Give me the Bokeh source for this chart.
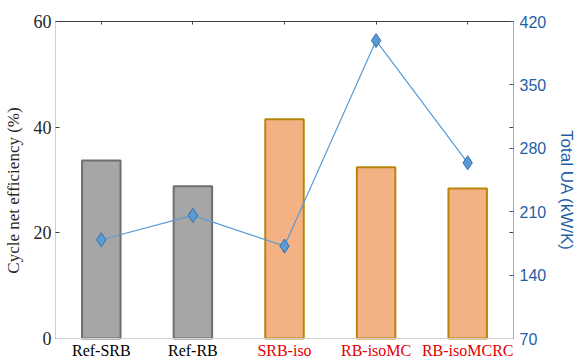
from bokeh.plotting import figure
from bokeh.models import (Range1d, LinearAxis, FixedTicker, ColumnDataSource, LabelSet, Span)
from bokeh.embed import file_html
from bokeh.resources import INLINE

categories = ["Ref-SRB", "Ref-RB", "SRB-iso", "RB-isoMC", "RB-isoMCRC"]
efficiency = [33.7, 28.8, 41.5, 32.4, 28.4]
total_ua = [179, 206, 172, 399, 264]
bar_fill = ["#A6A6A6", "#A6A6A6", "#F4B183", "#F4B183", "#F4B183"]
bar_edge = ["#6E6E6E", "#6E6E6E", "#B8860B", "#B8860B", "#B8860B"]
label_colors = ["#000000", "#000000", "#E00000", "#E00000", "#E00000"]
left_ticks = [0, 20, 40, 60]
right_ticks = [70, 140, 210, 280, 350, 420]

xpos = list(range(1, len(categories) + 1))
blank = lambda ts: {t: "" for t in ts}

# frame runs down to the bottom of the canvas so the category labels can sit under y=0
eff_lo, eff_hi = left_ticks[0], left_ticks[-1]
ua_lo, ua_hi = right_ticks[0], right_ticks[-1]
frame_h = 359 - 21
pad_px = 21
eff_pad = (eff_hi - eff_lo) * pad_px / (frame_h - pad_px)
ua_pad = (ua_hi - ua_lo) * pad_px / (frame_h - pad_px)

p = figure(width=579, height=359, output_backend="svg", toolbar_location=None,
           x_range=Range1d(0.5, 5.5), y_range=Range1d(eff_lo - eff_pad, eff_hi),
           min_border_left=55, min_border_right=58, min_border_top=21, min_border_bottom=0,
           x_axis_location=None, y_axis_location=None)
p.grid.visible = False
p.outline_line_color = None
p.background_fill_color = "white"

src = ColumnDataSource(dict(x=xpos, eff=efficiency, ua=total_ua, fill=bar_fill, edge=bar_edge,
                            name=categories, tc=label_colors, y0=[0] * 5))

p.add_layout(Span(location=0, dimension="width", line_color="#D0D0D0", line_width=1))

p.vbar(x="x", top="eff", width=0.42, fill_color="fill", line_color="edge", line_width=2, source=src)

p.extra_y_ranges = {"ua": Range1d(ua_lo - ua_pad, ua_hi)}
p.line(x="x", y="ua", y_range_name="ua", line_color="#5B9BD5", line_width=1.2, source=src)
p.scatter(x="x", y="ua", y_range_name="ua", marker="diamond", size=14,
          fill_color="#5B9BD5", line_color="#2E6FB0", line_width=1, source=src)

# top axis (box with inward ticks)
xt = LinearAxis(ticker=FixedTicker(ticks=xpos), major_label_overrides=blank(xpos),
                major_tick_in=3, major_tick_out=0, major_label_standoff=0,
                axis_line_color="#404040", major_tick_line_color="#404040", minor_tick_line_color=None)
p.add_layout(xt, "above")

yl = LinearAxis(ticker=FixedTicker(ticks=left_ticks), axis_label="Cycle net efficiency (%)",
                bounds=(eff_lo, eff_hi),
                major_tick_in=4, major_tick_out=0, minor_tick_line_color=None,
                axis_line_color="#D0D0D0", major_tick_line_color="#404040",
                major_label_text_font="Liberation Serif", major_label_text_font_size="18px",
                major_label_text_color="#262626", major_label_standoff=4,
                axis_label_text_font="Liberation Serif", axis_label_text_font_size="17px",
                axis_label_text_font_style="normal", axis_label_text_color="#262626",
                axis_label_standoff=8)
p.add_layout(yl, "left")

ym = LinearAxis(ticker=FixedTicker(ticks=left_ticks), major_label_overrides=blank(left_ticks),
                bounds=(eff_lo, eff_hi),
                major_tick_in=4, major_tick_out=0, minor_tick_line_color=None,
                axis_line_color=None, major_tick_line_color="#404040", major_label_standoff=0)
p.add_layout(ym, "right")

yr = LinearAxis(y_range_name="ua", ticker=FixedTicker(ticks=right_ticks), axis_label="Total UA (kW/K)",
                bounds=(ua_lo, ua_hi),
                major_tick_in=4, major_tick_out=0, minor_tick_line_color=None,
                axis_line_color="#8FB3D9", major_tick_line_color="#1F5FA8",
                major_label_text_font="Liberation Sans", major_label_text_font_size="16px",
                major_label_text_color="#1F5FA8", major_label_standoff=6,
                axis_label_text_font="Liberation Sans", axis_label_text_font_size="17px",
                axis_label_text_font_style="normal", axis_label_text_color="#1F5FA8",
                axis_label_standoff=8)
p.add_layout(yr, "right")

labels = LabelSet(x="x", y="y0", text="name", text_color="tc", source=src,
                  y_offset=-3, text_align="center", text_baseline="top",
                  text_font="Liberation Serif", text_font_size="16px")
p.add_layout(labels)

open("out.html", "w").write(file_html(p, INLINE))
